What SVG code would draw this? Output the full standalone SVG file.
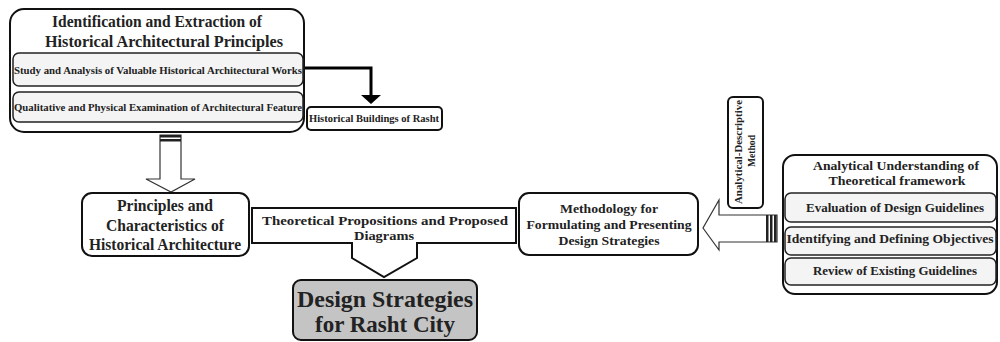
<svg xmlns="http://www.w3.org/2000/svg" width="1000" height="342" viewBox="0 0 1000 342">
<style>
.box{fill:#fff;stroke:#111;stroke-width:2}
.inner{fill:#f4f4f4;stroke:#222;stroke-width:1.5}
.t{font-family:"Liberation Serif",serif;font-weight:bold;fill:#222;text-anchor:middle}
.s15{font-size:16px}
.s13{font-size:13px}
.s10{font-size:10px}
.s22{font-size:23px}
</style>
<rect width="1000" height="342" fill="#fff"/>
<g id="connectors">
<path d="M303,68 H371 V97" fill="none" stroke="#000" stroke-width="3"/>
<polygon points="361,95 381,95 371,104" fill="#000"/>
<path d="M160,135 H181 V179 H195 L171,192 L146,179 H160 Z" fill="#fff" stroke="#333" stroke-width="1.2"/>
<rect x="160" y="135" width="21" height="2.5" fill="#222"/>
<rect x="160" y="139" width="21" height="2.5" fill="#222"/>
<path d="M777,215 H719 V200 L703,228 L719,250 V242 H777 Z" fill="#fff" stroke="#333" stroke-width="1.2"/>
<rect x="766" y="215" width="2.5" height="27" fill="#222"/>
<rect x="770" y="215" width="2.5" height="27" fill="#222"/>
<rect x="774" y="215" width="2.5" height="27" fill="#222"/>
</g>
<g id="n-identification">
<rect class="box" x="10" y="9" width="294" height="123" rx="14"/>
<text class="t s15" x="157" y="27" textLength="210" lengthAdjust="spacingAndGlyphs">Identification and Extraction of</text>
<text class="t s15" x="164" y="47" textLength="238" lengthAdjust="spacingAndGlyphs">Historical Architectural Principles</text>
<rect class="inner" x="13" y="53" width="290" height="33" rx="6"/>
<text class="t s10" x="158" y="74" textLength="288" lengthAdjust="spacingAndGlyphs">Study and Analysis of Valuable Historical Architectural Works</text>
<rect class="inner" x="13" y="92" width="290" height="30" rx="6"/>
<text class="t s10" x="158" y="111" textLength="288" lengthAdjust="spacingAndGlyphs">Qualitative and Physical Examination of Architectural Feature</text>
</g>
<g id="n-buildings">
<rect class="box" x="307" y="107" width="135" height="23" rx="4" stroke-width="1.2"/>
<text class="t s10" x="374" y="122" textLength="130" lengthAdjust="spacingAndGlyphs">Historical Buildings of Rasht</text>
</g>
<g id="n-principles">
<rect class="box" x="82" y="193" width="167" height="63" rx="10"/>
<text class="t s15" x="165" y="211" textLength="96" lengthAdjust="spacingAndGlyphs">Principles and</text>
<text class="t s15" x="165" y="231" textLength="118" lengthAdjust="spacingAndGlyphs">Characteristics of</text>
<text class="t s15" x="165" y="250" textLength="152" lengthAdjust="spacingAndGlyphs">Historical Architecture</text>
</g>
<g id="n-theoretical">
<path class="box" d="M252,208 H516 V243 H417 V258 L384,277 L352,258 V243 H252 Z"/>
<text class="t s13" x="385" y="225" textLength="246" lengthAdjust="spacingAndGlyphs">Theoretical Propositions and Proposed</text>
<text class="t s13" x="384" y="240" textLength="60" lengthAdjust="spacingAndGlyphs">Diagrams</text>
</g>
<g id="n-design">
<rect x="293" y="280" width="184" height="60" rx="8" fill="#c4c4c4" stroke="#111" stroke-width="2"/>
<text class="t s22" x="385" y="307" textLength="176" lengthAdjust="spacingAndGlyphs" fill="#111">Design Strategies</text>
<text class="t s22" x="385" y="332" textLength="140" lengthAdjust="spacingAndGlyphs" fill="#111">for Rasht City</text>
</g>
<g id="n-methodology">
<rect class="box" x="519" y="193" width="179" height="62" rx="10"/>
<text class="t s13" x="609" y="213" textLength="98" lengthAdjust="spacingAndGlyphs">Methodology for</text>
<text class="t s13" x="609" y="229" textLength="165" lengthAdjust="spacingAndGlyphs">Formulating and Presenting</text>
<text class="t s13" x="609" y="245" textLength="101" lengthAdjust="spacingAndGlyphs">Design Strategies</text>
</g>
<g id="n-method">
<rect class="box" x="728" y="97" width="35" height="111" rx="5" stroke-width="1.2"/>
<text class="t s10" transform="translate(742,152) rotate(-90)" x="0" y="0" textLength="104" lengthAdjust="spacingAndGlyphs">Analytical-Descriptive</text>
<text class="t s10" transform="translate(755,151) rotate(-90)" x="0" y="0" textLength="32" lengthAdjust="spacingAndGlyphs">Method</text>
</g>
<g id="n-analytical">
<rect class="box" x="783" y="155" width="214" height="139" rx="12"/>
<text class="t s13" x="896" y="170" textLength="166" lengthAdjust="spacingAndGlyphs">Analytical Understanding of</text>
<text class="t s13" x="897" y="185" textLength="137" lengthAdjust="spacingAndGlyphs">Theoretical framework</text>
<rect class="inner" x="785" y="193" width="211" height="29" rx="6"/>
<text class="t s13" x="895" y="212" textLength="178" lengthAdjust="spacingAndGlyphs">Evaluation of Design Guidelines</text>
<rect class="inner" x="785" y="227" width="211" height="28" rx="6"/>
<text class="t s13" x="890" y="243" textLength="207" lengthAdjust="spacingAndGlyphs">Identifying and Defining Objectives</text>
<rect class="inner" x="785" y="258" width="211" height="27" rx="6"/>
<text class="t s13" x="895" y="275" textLength="164" lengthAdjust="spacingAndGlyphs">Review of Existing Guidelines</text>
</g>
</svg>
